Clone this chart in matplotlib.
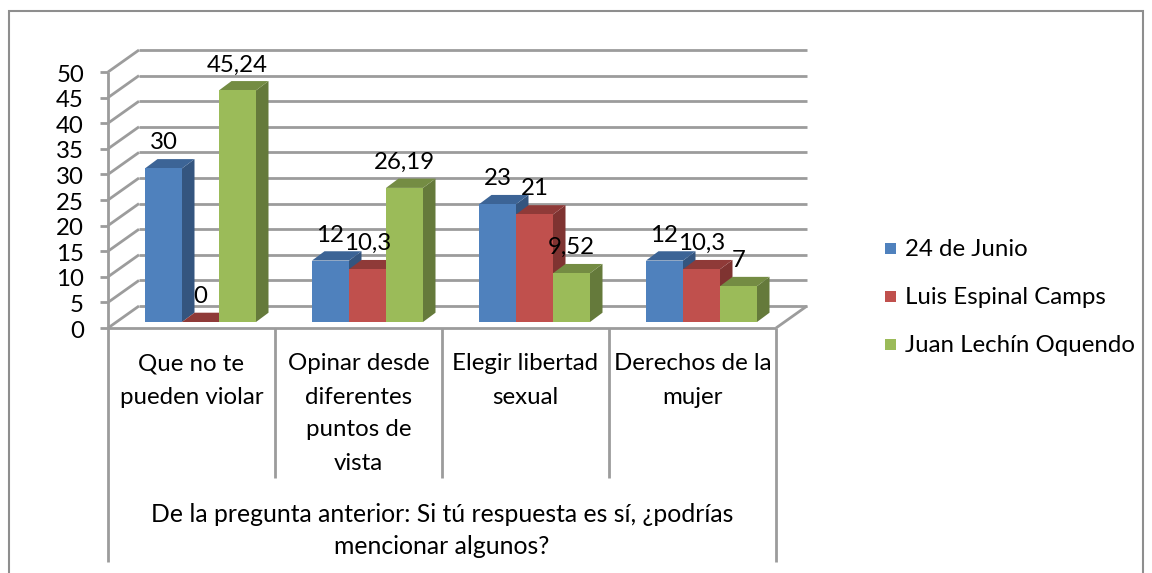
import matplotlib.pyplot as plt
from matplotlib.patches import Polygon, Rectangle

# dati
categorie = [["Que no te", "pueden violar"],
             ["Opinar desde", "diferentes", "puntos de", "vista"],
             ["Elegir libertad", "sexual"],
             ["Derechos de la", "mujer"]]
titolo_asse = ["De la pregunta anterior: Si tú respuesta es sí, ¿podrías", "mencionar algunos?"]
serie = ["24 de Junio", "Luis Espinal Camps", "Juan Lechín Oquendo"]
junio = [30, 12, 23, 12]
espinal = [0, 10.3, 21, 10.3]
lechin = [45.24, 26.19, 9.52, 7]
valori_y = list(range(0, 55, 5))

# colori: fronte, sopra, lato
colori = [("#4F81BD", "#3C6496", "#34557F"),
          ("#C0504D", "#8F3A38", "#7F3331"),
          ("#9BBB59", "#748C43", "#657A3B")]
grigio = "#9C9C9C"
font = "Lato"
size = 17.3

W, H = 1152, 573
X0, Y0 = 108, 322      # pixel di x=0 e y=0 (fronte delle barre)
PX_CAT, PX_VAL = 167.0, 5.12

fig = plt.figure(figsize=(W / 100, H / 100), dpi=100)
ax = fig.add_axes([0, 0, 1, 1])
ax.set_xlim(-X0 / PX_CAT, (W - X0) / PX_CAT)
ax.set_ylim((Y0 - H) / PX_VAL, Y0 / PX_VAL)
ax.axis("off")


def dx(px):
    return px / PX_CAT


def dy(px):
    return px / PX_VAL


def pt(px, py):
    # da pixel dell'immagine a coordinate dati
    return (px - X0) / PX_CAT, (Y0 - py) / PX_VAL


def linea(x1, y1, x2, y2, lw=2.0, z=1):
    a, b = pt(x1, y1), pt(x2, y2)
    ax.plot([a[0], b[0]], [a[1], b[1]], color=grigio, lw=lw, solid_capstyle="butt", zorder=z)


# bordo esterno
ax.add_patch(Rectangle(pt(9, 600), dx(1134), dy(589), fill=False, ec="#8E8E8E", lw=1.5, zorder=0))

# griglia, pareti e tacche
for v in valori_y:
    y_front = 328 - v * PX_VAL
    linea(139, y_front - 22, 807, y_front - 22)
    linea(108, y_front, 139, y_front - 22)
    linea(100, y_front, 108, y_front)
    xt, yt = pt(84, y_front + 3)
    ax.text(xt, yt, str(v), ha="right", va="center", fontsize=size, family=font, color="black")
linea(108, 72, 108, 328)

# pavimento
linea(108, 328, 776, 328)
linea(776, 328, 807, 306)

# divisori sotto l'asse
linea(108, 328, 108, 562)
linea(776, 328, 776, 562)
for i in range(1, 4):
    linea(108 + i * PX_CAT, 328, 108 + i * PX_CAT, 478)

# barre
larg = 37 / PX_CAT
inizio = 37 / PX_CAT
prof_x, prof_y = dx(12.5), dy(9.3)
for i in range(4):
    for j, valori in enumerate([junio, espinal, lechin]):
        v = valori[i]
        x = i + inizio + j * larg
        fronte, sopra, lato = colori[j]
        ax.add_patch(Polygon([(x + larg, 0), (x + larg + prof_x, prof_y), (x + larg + prof_x, v + prof_y), (x + larg, v)],
                             fc=lato, lw=0, zorder=3))
        ax.add_patch(Polygon([(x, v), (x + larg, v), (x + larg + prof_x, v + prof_y), (x + prof_x, v + prof_y)],
                             fc=sopra, lw=0, zorder=3))
        ax.add_patch(Rectangle((x, 0), larg, v, fc=fronte, lw=0, zorder=3))
        ax.annotate(str(v).replace(".", ","), (x + larg / 2, v), xytext=(0, 25.5 * 0.72), textcoords="offset points",
                    ha="center", va="center", fontsize=size, family=font, color="black", zorder=5)

# etichette categorie
for i, righe in enumerate(categorie):
    for k, r in enumerate(righe):
        xt, yt = pt(108 + (i + 0.5) * PX_CAT, 364 + k * 33)
        ax.text(xt, yt, r, ha="center", va="center", fontsize=size, family=font, color="black")
for k, r in enumerate(titolo_asse):
    xt, yt = pt(442, 515 + k * 32)
    ax.text(xt, yt, r, ha="center", va="center", fontsize=17.8, family=font, color="black")

# legenda
for j, nome in enumerate(serie):
    yl = 248 + j * 48
    ax.add_patch(Rectangle(pt(885, yl + 5.5), dx(11), dy(11), fc=colori[j][0], lw=0))
    xt, yt = pt(905, yl + 2)
    ax.text(xt, yt, nome, ha="left", va="center", fontsize=size, family=font, color="black")

fig.savefig("out.png", dpi=100)
